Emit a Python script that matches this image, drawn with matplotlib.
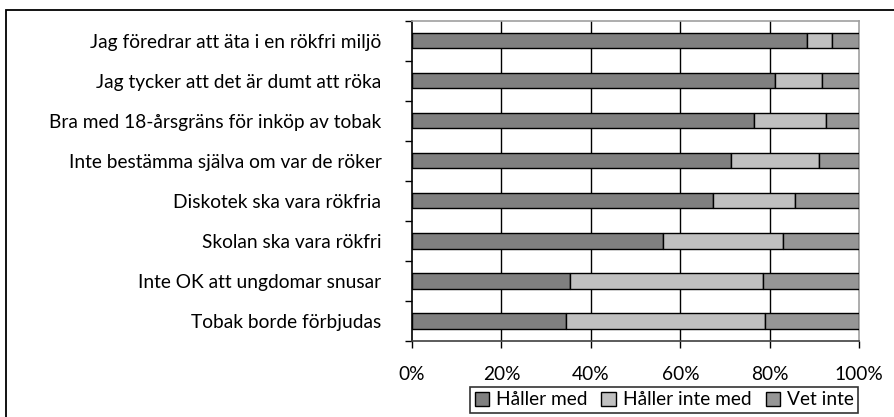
import numpy as np
import matplotlib
matplotlib.use("Agg")
from matplotlib import pyplot as plt
from matplotlib.patches import Rectangle

plt.rcParams['font.family'] = ['Lato', 'DejaVu Sans']

categories = [
    "Jag föredrar att äta i en rökfri miljö",
    "Jag tycker att det är dumt att röka",
    "Bra med 18-årsgräns för inköp av tobak",
    "Inte bestämma själva om var de röker",
    "Diskotek ska vara rökfria",
    "Skolan ska vara rökfri",
    "Inte OK att ungdomar snusar",
    "Tobak borde förbjudas",
]
haller_med = [88.3, 81.1, 76.4, 71.4, 67.4, 56.2, 35.4, 34.4]
haller_inte_med = [5.6, 10.5, 16.1, 19.5, 18.2, 26.8, 43.0, 44.6]
vet_inte = [6.1, 8.4, 7.5, 9.1, 14.4, 17.0, 21.6, 21.0]
series_names = ["Håller med", "Håller inte med", "Vet inte"]
colors = ["#808080", "#c0c0c0", "#969696"]
xticks = [0, 20, 40, 60, 80, 100]

W, H = 894, 417
fs = 13.8
fig = plt.figure(figsize=(W / 100, H / 100), dpi=100)
ax = fig.add_axes([412 / W, 1 - 341 / H, (859.3 - 412) / W, (341 - 20.5) / H])

# outer frame of the chart area
fig.patches.append(Rectangle((6 / W, -0.05), 1.0, 1 - 9.5 / H + 0.05, transform=fig.transFigure,
                             fill=False, edgecolor="black", linewidth=1.3))

y = np.arange(len(categories))[::-1]
data = [haller_med, haller_inte_med, vet_inte]
left = np.zeros(len(categories))
for vals, name, col in zip(data, series_names, colors):
    vals = np.array(vals)
    ax.barh(y, vals, left=left, height=0.385, color=col, edgecolor="black",
            linewidth=1.0, label=name, zorder=3)
    left += vals

ax.set_xlim(0, 100)
ax.set_ylim(-0.5, len(categories) - 0.5)
ax.set_xticks(xticks)
ax.set_xticklabels([f"{v}%" for v in xticks], fontsize=fs)
ax.set_yticks(y)
ax.set_yticklabels(categories, fontsize=fs)
ax.set_yticks(np.arange(len(categories) + 1) - 0.5, minor=True)
ax.tick_params(axis="y", which="major", length=0, pad=22)
ax.tick_params(axis="y", which="minor", length=5, width=1, color="black", direction="out")
ax.tick_params(axis="x", length=5, width=1, direction="out", pad=13)

for v in xticks[1:-1]:
    ax.axvline(v, color="black", linewidth=1.0, zorder=1)

ax.spines["left"].set_color("black")
ax.spines["bottom"].set_color("#404040")
ax.spines["top"].set_color("#a0a0a0")
ax.spines["right"].set_color("#a0a0a0")
for s in ax.spines.values():
    s.set_linewidth(1.2)

leg = fig.legend(loc="upper center", bbox_to_anchor=(664 / W, 1 - 386.5 / H), ncol=3,
                 fontsize=fs, frameon=True, fancybox=False, edgecolor="black",
                 handlelength=0.75, handleheight=0.75, handletextpad=0.35, columnspacing=0.75,
                 borderpad=0.25, borderaxespad=0)
leg.get_frame().set_linewidth(1.2)

fig.savefig("out.png", dpi=100)
